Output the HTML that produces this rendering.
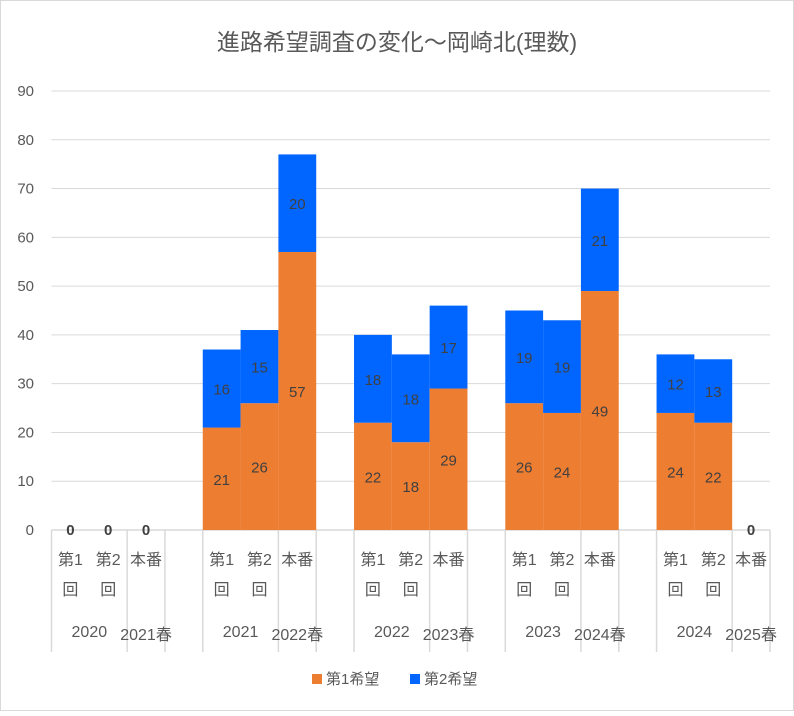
<!DOCTYPE html>
<html><head><meta charset="utf-8"><style>
body{margin:0;background:#fff;}
svg text{font-family:"Liberation Sans","Noto Sans CJK JP",sans-serif;}
</style></head><body>
<svg id="c" width="794" height="711" xmlns="http://www.w3.org/2000/svg">
<rect x="0.5" y="0.5" width="793" height="710" fill="#fff" stroke="#d9d9d9"/>
<text x="397" y="50" text-anchor="middle" font-size="23" fill="#595959">進路希望調査の変化～岡崎北(理数)</text>
<g id="grid"></g><g id="axis"></g><g id="bars"></g>
<g>
<rect x="312" y="674" width="10" height="10" fill="#ED7D31"/>
<text x="326" y="684" font-size="15" fill="#595959">第1希望</text>
<rect x="410" y="674" width="10" height="10" fill="#0066FF"/>
<text x="424" y="684" font-size="15" fill="#595959">第2希望</text>
</g>
</svg>
<script>
const categories=["第1回","第2回","本番","","第1回","第2回","本番","","第1回","第2回","本番","","第1回","第2回","本番","","第1回","第2回","本番"];
const firstChoice=[0,0,0,null,21,26,57,null,22,18,29,null,26,24,49,null,24,22,0];
const secondChoice=[0,0,0,null,16,15,20,null,18,18,17,null,19,19,21,null,12,13,0];
const yTicks=[0,10,20,30,40,50,60,70,80,90];
const groups=[["2020",0,2],["2021春",2,3],["2021",4,6],["2022春",6,7],["2022",8,10],["2023春",10,11],["2023",12,14],["2024春",14,15],["2024",16,18],["2025春",18,19]];
const separators=[0,2,3,4,6,7,8,10,11,12,14,15,16,18,19];
const NS="http://www.w3.org/2000/svg";
const X0=51.5,X1=770,Y0=530,Y90=91;
const slot=(X1-X0)/categories.length;
const y=v=>Y0-(v/90)*(Y0-Y90);
const x=i=>X0+i*slot;
function mk(tag,attrs,parent,txt){const e=document.createElementNS(NS,tag);for(const k in attrs)e.setAttribute(k,attrs[k]);if(txt!==undefined)e.textContent=txt;parent.appendChild(e);return e;}
const grid=document.getElementById('grid'),bars=document.getElementById('bars'),axis=document.getElementById('axis');
yTicks.forEach(t=>{
 if(t>0){const l=mk('line',{x1:X0,x2:X1,y1:y(t),y2:y(t),stroke:'#d9d9d9','stroke-width':1},grid);
 
 }
 const tx=mk('text',{x:34,y:y(t)+5,'text-anchor':'end','font-size':15,fill:'#595959'},grid,String(t));
 
 
});
const base=mk('line',{x1:X0,x2:X1,y1:Y0,y2:Y0,stroke:'#d9d9d9','stroke-width':1.5},axis);


separators.forEach(k=>{const l=mk('line',{x1:x(k),x2:x(k),y1:Y0,y2:652,stroke:'#d9d9d9','stroke-width':1.5},axis);
 
 });
categories.forEach((c,i)=>{
 const f=firstChoice[i],s=secondChoice[i];
 if(f===null)return;
 if(f>0){const r=mk('rect',{x:x(i),y:y(f),width:slot,height:y(0)-y(f),fill:'#ED7D31'},bars);
 
 
 const t=mk('text',{x:x(i)+slot/2,y:y(f/2)+6,'text-anchor':'middle','font-size':15,fill:'#404040'},bars,String(f));
 
 }
 if(s>0){const r=mk('rect',{x:x(i),y:y(f+s),width:slot,height:y(f)-y(f+s),fill:'#0066FF'},bars);
 
 
 const t=mk('text',{x:x(i)+slot/2,y:y(f+s/2)+6,'text-anchor':'middle','font-size':15,fill:'#404040'},bars,String(s));
 
 }
 if(f===0&&s===0){const t=mk('text',{x:x(i)+slot/2,y:y(0)+5,'text-anchor':'middle','font-size':15,'font-weight':'bold',fill:'#404040'},bars,'0');
 
 }
 const c1=c.length===3?c.slice(0,2):c;
 const t1=mk('text',{x:x(i)+slot/2,y:565,'text-anchor':'middle','font-size':16,fill:'#595959'},axis,c1);
 
 
 if(c.length===3){const t2=mk('text',{x:x(i)+slot/2,y:595,'text-anchor':'middle','font-size':16,fill:'#595959'},axis,c[2]);
 
 }
});
groups.forEach(g=>{const spring=g[0].indexOf('春')>=0;
 const t=mk('text',{x:(x(g[1])+x(g[2]))/2,y:spring?640:637,'text-anchor':'middle','font-size':16,fill:'#595959'},axis,g[0]);
 
 });
</script>
</body></html>
